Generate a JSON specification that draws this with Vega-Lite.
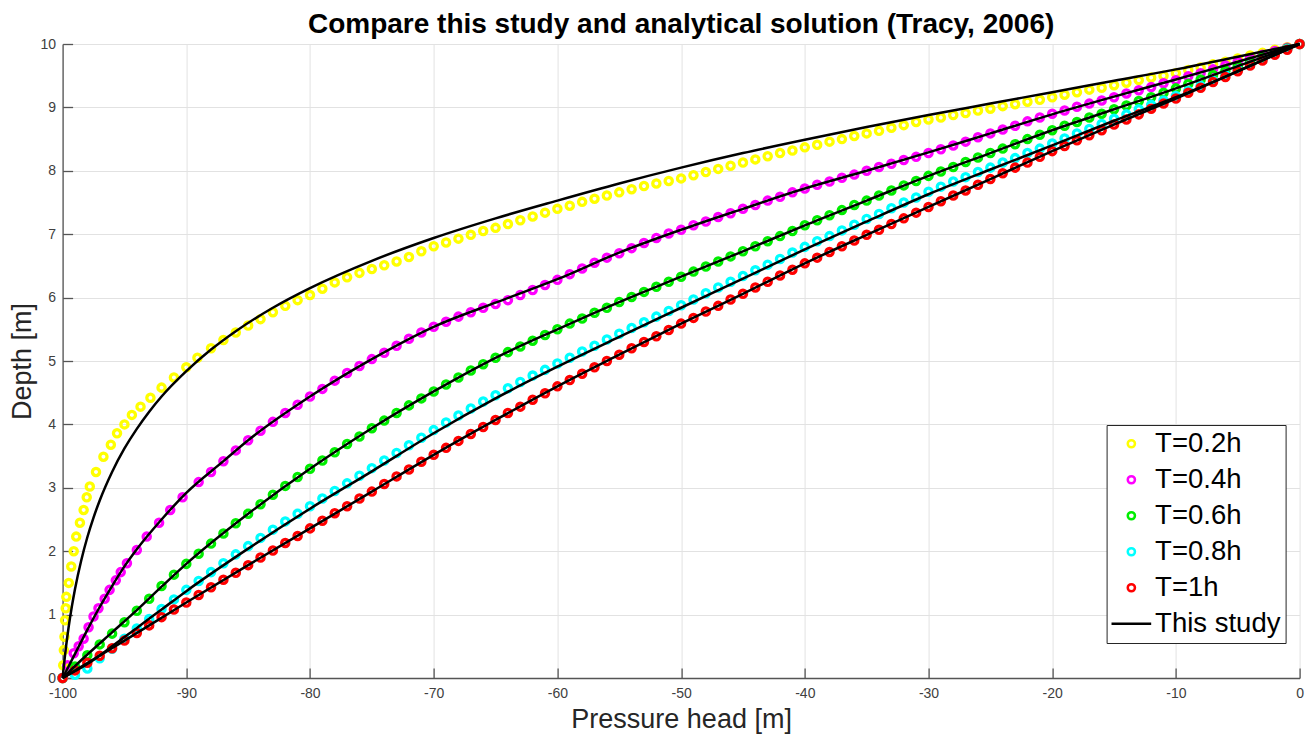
{
  "$schema": "https://vega.github.io/schema/vega-lite/v6.json",
  "width": 1237,
  "height": 634,
  "autosize": {"type": "none"},
  "padding": {"left": 62.6, "top": 44, "right": 9.4, "bottom": 57},
  "background": "white",
  "title": {"text": "Compare this study and analytical solution (Tracy, 2006)", "fontSize": 28, "font": "Liberation Sans", "fontWeight": "bold", "color": "#000000", "anchor": "middle", "offset": -5},
  "config": {"view": {"stroke": null}},
  "datasets": {
    "pts": [
      {"s":"T=0.2h","x":-100,"y":0},{"s":"T=0.2h","x":-99.95,"y":0.2},{"s":"T=0.2h","x":-99.9,"y":0.44},{"s":"T=0.2h","x":-99.85,"y":0.65},{"s":"T=0.2h","x":-99.8,"y":0.91},{"s":"T=0.2h","x":-99.75,"y":1.1},{"s":"T=0.2h","x":-99.7,"y":1.28},{"s":"T=0.2h","x":-99.5,"y":1.5},{"s":"T=0.2h","x":-99.3,"y":1.76},{"s":"T=0.2h","x":-99.1,"y":2.0},{"s":"T=0.2h","x":-98.9,"y":2.23},{"s":"T=0.2h","x":-98.6,"y":2.45},{"s":"T=0.2h","x":-98.3,"y":2.65},{"s":"T=0.2h","x":-98.05,"y":2.85},{"s":"T=0.2h","x":-97.8,"y":3.02},{"s":"T=0.2h","x":-97.3,"y":3.25},{"s":"T=0.2h","x":-96.7,"y":3.49},{"s":"T=0.2h","x":-96.1,"y":3.68},{"s":"T=0.2h","x":-95.6,"y":3.86},{"s":"T=0.2h","x":-95.0,"y":4.0},{"s":"T=0.2h","x":-94.4,"y":4.15},{"s":"T=0.2h","x":-93.7,"y":4.28},{"s":"T=0.2h","x":-92.9,"y":4.42},{"s":"T=0.2h","x":-92.0,"y":4.58},{"s":"T=0.2h","x":-91.0,"y":4.74},{"s":"T=0.2h","x":-90.0,"y":4.9},{"s":"T=0.2h","x":-89.1,"y":5.05},{"s":"T=0.2h","x":-88,"y":5.2},{"s":"T=0.2h","x":-87,"y":5.33},{"s":"T=0.2h","x":-86,"y":5.45},{"s":"T=0.2h","x":-85,"y":5.56},{"s":"T=0.2h","x":-84,"y":5.66},{"s":"T=0.2h","x":-83,"y":5.77},{"s":"T=0.2h","x":-82,"y":5.87},{"s":"T=0.2h","x":-81,"y":5.96},{"s":"T=0.2h","x":-80,"y":6.04},{"s":"T=0.2h","x":-79,"y":6.14},{"s":"T=0.2h","x":-78,"y":6.24},{"s":"T=0.2h","x":-77,"y":6.32},{"s":"T=0.2h","x":-76,"y":6.39},{"s":"T=0.2h","x":-75,"y":6.45},{"s":"T=0.2h","x":-74,"y":6.51},{"s":"T=0.2h","x":-73,"y":6.57},{"s":"T=0.2h","x":-72,"y":6.64},{"s":"T=0.2h","x":-71,"y":6.73},{"s":"T=0.2h","x":-70,"y":6.81},{"s":"T=0.2h","x":-69,"y":6.87},{"s":"T=0.2h","x":-68,"y":6.93},{"s":"T=0.2h","x":-67,"y":6.99},{"s":"T=0.2h","x":-66,"y":7.05},{"s":"T=0.2h","x":-65,"y":7.1},{"s":"T=0.2h","x":-64,"y":7.16},{"s":"T=0.2h","x":-63,"y":7.22},{"s":"T=0.2h","x":-62,"y":7.28},{"s":"T=0.2h","x":-61,"y":7.34},{"s":"T=0.2h","x":-60,"y":7.4},{"s":"T=0.2h","x":-59,"y":7.45},{"s":"T=0.2h","x":-58,"y":7.51},{"s":"T=0.2h","x":-57,"y":7.56},{"s":"T=0.2h","x":-56,"y":7.61},{"s":"T=0.2h","x":-55,"y":7.66},{"s":"T=0.2h","x":-54,"y":7.71},{"s":"T=0.2h","x":-53,"y":7.76},{"s":"T=0.2h","x":-52,"y":7.8},{"s":"T=0.2h","x":-51,"y":7.84},{"s":"T=0.2h","x":-50,"y":7.88},{"s":"T=0.2h","x":-49,"y":7.93},{"s":"T=0.2h","x":-48,"y":7.98},{"s":"T=0.2h","x":-47,"y":8.03},{"s":"T=0.2h","x":-46,"y":8.08},{"s":"T=0.2h","x":-45,"y":8.13},{"s":"T=0.2h","x":-44,"y":8.18},{"s":"T=0.2h","x":-43,"y":8.23},{"s":"T=0.2h","x":-42,"y":8.28},{"s":"T=0.2h","x":-41,"y":8.32},{"s":"T=0.2h","x":-40,"y":8.37},{"s":"T=0.2h","x":-39,"y":8.41},{"s":"T=0.2h","x":-38,"y":8.46},{"s":"T=0.2h","x":-37,"y":8.5},{"s":"T=0.2h","x":-36,"y":8.55},{"s":"T=0.2h","x":-35,"y":8.59},{"s":"T=0.2h","x":-34,"y":8.63},{"s":"T=0.2h","x":-33,"y":8.68},{"s":"T=0.2h","x":-32,"y":8.72},{"s":"T=0.2h","x":-31,"y":8.77},{"s":"T=0.2h","x":-30,"y":8.81},{"s":"T=0.2h","x":-29,"y":8.84},{"s":"T=0.2h","x":-28,"y":8.88},{"s":"T=0.2h","x":-27,"y":8.91},{"s":"T=0.2h","x":-26,"y":8.95},{"s":"T=0.2h","x":-25,"y":8.98},{"s":"T=0.2h","x":-24,"y":9.02},{"s":"T=0.2h","x":-23,"y":9.05},{"s":"T=0.2h","x":-22,"y":9.09},{"s":"T=0.2h","x":-21,"y":9.12},{"s":"T=0.2h","x":-20,"y":9.16},{"s":"T=0.2h","x":-19,"y":9.2},{"s":"T=0.2h","x":-18,"y":9.24},{"s":"T=0.2h","x":-17,"y":9.28},{"s":"T=0.2h","x":-16,"y":9.31},{"s":"T=0.2h","x":-15,"y":9.35},{"s":"T=0.2h","x":-14,"y":9.39},{"s":"T=0.2h","x":-13,"y":9.43},{"s":"T=0.2h","x":-12,"y":9.47},{"s":"T=0.2h","x":-11,"y":9.5},{"s":"T=0.2h","x":-10,"y":9.54},{"s":"T=0.2h","x":-9,"y":9.59},{"s":"T=0.2h","x":-8,"y":9.63},{"s":"T=0.2h","x":-7,"y":9.68},{"s":"T=0.2h","x":-6,"y":9.72},{"s":"T=0.2h","x":-5,"y":9.77},{"s":"T=0.2h","x":-4,"y":9.82},{"s":"T=0.2h","x":-3,"y":9.86},{"s":"T=0.2h","x":-2,"y":9.91},{"s":"T=0.2h","x":-1,"y":9.95},{"s":"T=0.2h","x":0,"y":10},

      {"s":"T=0.4h","x":-100,"y":0},{"s":"T=0.4h","x":-99.6,"y":0.2},{"s":"T=0.4h","x":-99.1,"y":0.39},{"s":"T=0.4h","x":-98.7,"y":0.5},{"s":"T=0.4h","x":-98.3,"y":0.62},{"s":"T=0.4h","x":-97.9,"y":0.8},{"s":"T=0.4h","x":-97.5,"y":0.97},{"s":"T=0.4h","x":-97.1,"y":1.1},{"s":"T=0.4h","x":-96.6,"y":1.25},{"s":"T=0.4h","x":-96.2,"y":1.39},{"s":"T=0.4h","x":-95.7,"y":1.54},{"s":"T=0.4h","x":-95.3,"y":1.67},{"s":"T=0.4h","x":-94.8,"y":1.81},{"s":"T=0.4h","x":-94,"y":2.02},{"s":"T=0.4h","x":-93.2,"y":2.23},{"s":"T=0.4h","x":-92.2,"y":2.45},{"s":"T=0.4h","x":-91.3,"y":2.65},{"s":"T=0.4h","x":-90.3,"y":2.85},{"s":"T=0.4h","x":-89,"y":3.09},{"s":"T=0.4h","x":-88,"y":3.25},{"s":"T=0.4h","x":-87,"y":3.42},{"s":"T=0.4h","x":-86,"y":3.59},{"s":"T=0.4h","x":-85,"y":3.75},{"s":"T=0.4h","x":-84,"y":3.9},{"s":"T=0.4h","x":-83,"y":4.04},{"s":"T=0.4h","x":-82,"y":4.18},{"s":"T=0.4h","x":-81,"y":4.31},{"s":"T=0.4h","x":-80,"y":4.44},{"s":"T=0.4h","x":-79,"y":4.56},{"s":"T=0.4h","x":-78,"y":4.69},{"s":"T=0.4h","x":-77,"y":4.81},{"s":"T=0.4h","x":-76,"y":4.92},{"s":"T=0.4h","x":-75,"y":5.03},{"s":"T=0.4h","x":-74,"y":5.13},{"s":"T=0.4h","x":-73,"y":5.24},{"s":"T=0.4h","x":-72,"y":5.35},{"s":"T=0.4h","x":-71,"y":5.45},{"s":"T=0.4h","x":-70,"y":5.54},{"s":"T=0.4h","x":-69,"y":5.62},{"s":"T=0.4h","x":-68,"y":5.7},{"s":"T=0.4h","x":-67,"y":5.77},{"s":"T=0.4h","x":-66,"y":5.84},{"s":"T=0.4h","x":-65,"y":5.9},{"s":"T=0.4h","x":-64,"y":5.96},{"s":"T=0.4h","x":-63,"y":6.04},{"s":"T=0.4h","x":-62,"y":6.12},{"s":"T=0.4h","x":-61,"y":6.2},{"s":"T=0.4h","x":-60,"y":6.28},{"s":"T=0.4h","x":-59,"y":6.37},{"s":"T=0.4h","x":-58,"y":6.46},{"s":"T=0.4h","x":-57,"y":6.55},{"s":"T=0.4h","x":-56,"y":6.63},{"s":"T=0.4h","x":-55,"y":6.7},{"s":"T=0.4h","x":-54,"y":6.78},{"s":"T=0.4h","x":-53,"y":6.86},{"s":"T=0.4h","x":-52,"y":6.94},{"s":"T=0.4h","x":-51,"y":7.01},{"s":"T=0.4h","x":-50,"y":7.07},{"s":"T=0.4h","x":-49,"y":7.14},{"s":"T=0.4h","x":-48,"y":7.2},{"s":"T=0.4h","x":-47,"y":7.27},{"s":"T=0.4h","x":-46,"y":7.33},{"s":"T=0.4h","x":-45,"y":7.4},{"s":"T=0.4h","x":-44,"y":7.46},{"s":"T=0.4h","x":-43,"y":7.53},{"s":"T=0.4h","x":-42,"y":7.59},{"s":"T=0.4h","x":-41,"y":7.66},{"s":"T=0.4h","x":-40,"y":7.72},{"s":"T=0.4h","x":-39,"y":7.78},{"s":"T=0.4h","x":-38,"y":7.83},{"s":"T=0.4h","x":-37,"y":7.89},{"s":"T=0.4h","x":-36,"y":7.94},{"s":"T=0.4h","x":-35,"y":8.0},{"s":"T=0.4h","x":-34,"y":8.06},{"s":"T=0.4h","x":-33,"y":8.11},{"s":"T=0.4h","x":-32,"y":8.17},{"s":"T=0.4h","x":-31,"y":8.22},{"s":"T=0.4h","x":-30,"y":8.28},{"s":"T=0.4h","x":-29,"y":8.34},{"s":"T=0.4h","x":-28,"y":8.4},{"s":"T=0.4h","x":-27,"y":8.46},{"s":"T=0.4h","x":-26,"y":8.53},{"s":"T=0.4h","x":-25,"y":8.59},{"s":"T=0.4h","x":-24,"y":8.65},{"s":"T=0.4h","x":-23,"y":8.71},{"s":"T=0.4h","x":-22,"y":8.78},{"s":"T=0.4h","x":-21,"y":8.84},{"s":"T=0.4h","x":-20,"y":8.9},{"s":"T=0.4h","x":-19,"y":8.95},{"s":"T=0.4h","x":-18,"y":9.01},{"s":"T=0.4h","x":-17,"y":9.06},{"s":"T=0.4h","x":-16,"y":9.11},{"s":"T=0.4h","x":-15,"y":9.16},{"s":"T=0.4h","x":-14,"y":9.22},{"s":"T=0.4h","x":-13,"y":9.27},{"s":"T=0.4h","x":-12,"y":9.32},{"s":"T=0.4h","x":-11,"y":9.38},{"s":"T=0.4h","x":-10,"y":9.43},{"s":"T=0.4h","x":-9,"y":9.49},{"s":"T=0.4h","x":-8,"y":9.54},{"s":"T=0.4h","x":-7,"y":9.6},{"s":"T=0.4h","x":-6,"y":9.66},{"s":"T=0.4h","x":-5,"y":9.72},{"s":"T=0.4h","x":-4,"y":9.77},{"s":"T=0.4h","x":-3,"y":9.83},{"s":"T=0.4h","x":-2,"y":9.89},{"s":"T=0.4h","x":-1,"y":9.94},{"s":"T=0.4h","x":0,"y":10},

      {"s":"T=0.6h","x":-100,"y":0},{"s":"T=0.6h","x":-99,"y":0.18},{"s":"T=0.6h","x":-98,"y":0.36},{"s":"T=0.6h","x":-97,"y":0.53},{"s":"T=0.6h","x":-96,"y":0.7},{"s":"T=0.6h","x":-95,"y":0.88},{"s":"T=0.6h","x":-94,"y":1.06},{"s":"T=0.6h","x":-93,"y":1.25},{"s":"T=0.6h","x":-92,"y":1.45},{"s":"T=0.6h","x":-91,"y":1.63},{"s":"T=0.6h","x":-90,"y":1.8},{"s":"T=0.6h","x":-89,"y":1.96},{"s":"T=0.6h","x":-88,"y":2.12},{"s":"T=0.6h","x":-87,"y":2.28},{"s":"T=0.6h","x":-86,"y":2.44},{"s":"T=0.6h","x":-85,"y":2.59},{"s":"T=0.6h","x":-84,"y":2.74},{"s":"T=0.6h","x":-83,"y":2.89},{"s":"T=0.6h","x":-82,"y":3.03},{"s":"T=0.6h","x":-81,"y":3.17},{"s":"T=0.6h","x":-80,"y":3.3},{"s":"T=0.6h","x":-79,"y":3.43},{"s":"T=0.6h","x":-78,"y":3.56},{"s":"T=0.6h","x":-77,"y":3.69},{"s":"T=0.6h","x":-76,"y":3.81},{"s":"T=0.6h","x":-75,"y":3.94},{"s":"T=0.6h","x":-74,"y":4.06},{"s":"T=0.6h","x":-73,"y":4.18},{"s":"T=0.6h","x":-72,"y":4.3},{"s":"T=0.6h","x":-71,"y":4.41},{"s":"T=0.6h","x":-70,"y":4.52},{"s":"T=0.6h","x":-69,"y":4.63},{"s":"T=0.6h","x":-68,"y":4.74},{"s":"T=0.6h","x":-67,"y":4.85},{"s":"T=0.6h","x":-66,"y":4.95},{"s":"T=0.6h","x":-65,"y":5.05},{"s":"T=0.6h","x":-64,"y":5.14},{"s":"T=0.6h","x":-63,"y":5.23},{"s":"T=0.6h","x":-62,"y":5.32},{"s":"T=0.6h","x":-61,"y":5.41},{"s":"T=0.6h","x":-60,"y":5.5},{"s":"T=0.6h","x":-59,"y":5.59},{"s":"T=0.6h","x":-58,"y":5.67},{"s":"T=0.6h","x":-57,"y":5.76},{"s":"T=0.6h","x":-56,"y":5.84},{"s":"T=0.6h","x":-55,"y":5.93},{"s":"T=0.6h","x":-54,"y":6.01},{"s":"T=0.6h","x":-53,"y":6.09},{"s":"T=0.6h","x":-52,"y":6.17},{"s":"T=0.6h","x":-51,"y":6.25},{"s":"T=0.6h","x":-50,"y":6.33},{"s":"T=0.6h","x":-49,"y":6.41},{"s":"T=0.6h","x":-48,"y":6.49},{"s":"T=0.6h","x":-47,"y":6.57},{"s":"T=0.6h","x":-46,"y":6.65},{"s":"T=0.6h","x":-45,"y":6.73},{"s":"T=0.6h","x":-44,"y":6.81},{"s":"T=0.6h","x":-43,"y":6.89},{"s":"T=0.6h","x":-42,"y":6.97},{"s":"T=0.6h","x":-41,"y":7.05},{"s":"T=0.6h","x":-40,"y":7.14},{"s":"T=0.6h","x":-39,"y":7.22},{"s":"T=0.6h","x":-38,"y":7.3},{"s":"T=0.6h","x":-37,"y":7.38},{"s":"T=0.6h","x":-36,"y":7.46},{"s":"T=0.6h","x":-35,"y":7.53},{"s":"T=0.6h","x":-34,"y":7.61},{"s":"T=0.6h","x":-33,"y":7.69},{"s":"T=0.6h","x":-32,"y":7.77},{"s":"T=0.6h","x":-31,"y":7.84},{"s":"T=0.6h","x":-30,"y":7.92},{"s":"T=0.6h","x":-29,"y":7.99},{"s":"T=0.6h","x":-28,"y":8.06},{"s":"T=0.6h","x":-27,"y":8.14},{"s":"T=0.6h","x":-26,"y":8.21},{"s":"T=0.6h","x":-25,"y":8.28},{"s":"T=0.6h","x":-24,"y":8.35},{"s":"T=0.6h","x":-23,"y":8.42},{"s":"T=0.6h","x":-22,"y":8.5},{"s":"T=0.6h","x":-21,"y":8.57},{"s":"T=0.6h","x":-20,"y":8.64},{"s":"T=0.6h","x":-19,"y":8.71},{"s":"T=0.6h","x":-18,"y":8.77},{"s":"T=0.6h","x":-17,"y":8.84},{"s":"T=0.6h","x":-16,"y":8.9},{"s":"T=0.6h","x":-15,"y":8.97},{"s":"T=0.6h","x":-14,"y":9.03},{"s":"T=0.6h","x":-13,"y":9.1},{"s":"T=0.6h","x":-12,"y":9.16},{"s":"T=0.6h","x":-11,"y":9.23},{"s":"T=0.6h","x":-10,"y":9.3},{"s":"T=0.6h","x":-9,"y":9.37},{"s":"T=0.6h","x":-8,"y":9.44},{"s":"T=0.6h","x":-7,"y":9.51},{"s":"T=0.6h","x":-6,"y":9.58},{"s":"T=0.6h","x":-5,"y":9.65},{"s":"T=0.6h","x":-4,"y":9.72},{"s":"T=0.6h","x":-3,"y":9.79},{"s":"T=0.6h","x":-2,"y":9.86},{"s":"T=0.6h","x":-1,"y":9.93},{"s":"T=0.6h","x":0,"y":10},

      {"s":"T=0.8h","x":-100,"y":0},{"s":"T=0.8h","x":-99,"y":0.05},{"s":"T=0.8h","x":-98,"y":0.15},{"s":"T=0.8h","x":-97,"y":0.31},{"s":"T=0.8h","x":-96,"y":0.46},{"s":"T=0.8h","x":-95,"y":0.62},{"s":"T=0.8h","x":-94,"y":0.78},{"s":"T=0.8h","x":-93,"y":0.93},{"s":"T=0.8h","x":-92,"y":1.09},{"s":"T=0.8h","x":-91,"y":1.24},{"s":"T=0.8h","x":-90,"y":1.39},{"s":"T=0.8h","x":-89,"y":1.53},{"s":"T=0.8h","x":-88,"y":1.67},{"s":"T=0.8h","x":-87,"y":1.81},{"s":"T=0.8h","x":-86,"y":1.95},{"s":"T=0.8h","x":-85,"y":2.08},{"s":"T=0.8h","x":-84,"y":2.21},{"s":"T=0.8h","x":-83,"y":2.34},{"s":"T=0.8h","x":-82,"y":2.47},{"s":"T=0.8h","x":-81,"y":2.59},{"s":"T=0.8h","x":-80,"y":2.71},{"s":"T=0.8h","x":-79,"y":2.83},{"s":"T=0.8h","x":-78,"y":2.95},{"s":"T=0.8h","x":-77,"y":3.07},{"s":"T=0.8h","x":-76,"y":3.19},{"s":"T=0.8h","x":-75,"y":3.31},{"s":"T=0.8h","x":-74,"y":3.43},{"s":"T=0.8h","x":-73,"y":3.55},{"s":"T=0.8h","x":-72,"y":3.67},{"s":"T=0.8h","x":-71,"y":3.79},{"s":"T=0.8h","x":-70,"y":3.91},{"s":"T=0.8h","x":-69,"y":4.03},{"s":"T=0.8h","x":-68,"y":4.14},{"s":"T=0.8h","x":-67,"y":4.25},{"s":"T=0.8h","x":-66,"y":4.36},{"s":"T=0.8h","x":-65,"y":4.46},{"s":"T=0.8h","x":-64,"y":4.57},{"s":"T=0.8h","x":-63,"y":4.67},{"s":"T=0.8h","x":-62,"y":4.77},{"s":"T=0.8h","x":-61,"y":4.86},{"s":"T=0.8h","x":-60,"y":4.96},{"s":"T=0.8h","x":-59,"y":5.05},{"s":"T=0.8h","x":-58,"y":5.15},{"s":"T=0.8h","x":-57,"y":5.24},{"s":"T=0.8h","x":-56,"y":5.34},{"s":"T=0.8h","x":-55,"y":5.43},{"s":"T=0.8h","x":-54,"y":5.52},{"s":"T=0.8h","x":-53,"y":5.61},{"s":"T=0.8h","x":-52,"y":5.7},{"s":"T=0.8h","x":-51,"y":5.79},{"s":"T=0.8h","x":-50,"y":5.88},{"s":"T=0.8h","x":-49,"y":5.97},{"s":"T=0.8h","x":-48,"y":6.07},{"s":"T=0.8h","x":-47,"y":6.16},{"s":"T=0.8h","x":-46,"y":6.25},{"s":"T=0.8h","x":-45,"y":6.34},{"s":"T=0.8h","x":-44,"y":6.43},{"s":"T=0.8h","x":-43,"y":6.52},{"s":"T=0.8h","x":-42,"y":6.61},{"s":"T=0.8h","x":-41,"y":6.71},{"s":"T=0.8h","x":-40,"y":6.8},{"s":"T=0.8h","x":-39,"y":6.89},{"s":"T=0.8h","x":-38,"y":6.97},{"s":"T=0.8h","x":-37,"y":7.06},{"s":"T=0.8h","x":-36,"y":7.15},{"s":"T=0.8h","x":-35,"y":7.24},{"s":"T=0.8h","x":-34,"y":7.32},{"s":"T=0.8h","x":-33,"y":7.41},{"s":"T=0.8h","x":-32,"y":7.5},{"s":"T=0.8h","x":-31,"y":7.58},{"s":"T=0.8h","x":-30,"y":7.67},{"s":"T=0.8h","x":-29,"y":7.75},{"s":"T=0.8h","x":-28,"y":7.83},{"s":"T=0.8h","x":-27,"y":7.9},{"s":"T=0.8h","x":-26,"y":7.98},{"s":"T=0.8h","x":-25,"y":8.05},{"s":"T=0.8h","x":-24,"y":8.13},{"s":"T=0.8h","x":-23,"y":8.2},{"s":"T=0.8h","x":-22,"y":8.28},{"s":"T=0.8h","x":-21,"y":8.35},{"s":"T=0.8h","x":-20,"y":8.43},{"s":"T=0.8h","x":-19,"y":8.51},{"s":"T=0.8h","x":-18,"y":8.59},{"s":"T=0.8h","x":-17,"y":8.66},{"s":"T=0.8h","x":-16,"y":8.74},{"s":"T=0.8h","x":-15,"y":8.82},{"s":"T=0.8h","x":-14,"y":8.89},{"s":"T=0.8h","x":-13,"y":8.97},{"s":"T=0.8h","x":-12,"y":9.04},{"s":"T=0.8h","x":-11,"y":9.11},{"s":"T=0.8h","x":-10,"y":9.18},{"s":"T=0.8h","x":-9,"y":9.26},{"s":"T=0.8h","x":-8,"y":9.34},{"s":"T=0.8h","x":-7,"y":9.42},{"s":"T=0.8h","x":-6,"y":9.51},{"s":"T=0.8h","x":-5,"y":9.59},{"s":"T=0.8h","x":-4,"y":9.67},{"s":"T=0.8h","x":-3,"y":9.75},{"s":"T=0.8h","x":-2,"y":9.84},{"s":"T=0.8h","x":-1,"y":9.92},{"s":"T=0.8h","x":0,"y":10},

      {"s":"T=1h","x":-100,"y":0},{"s":"T=1h","x":-99,"y":0.12},{"s":"T=1h","x":-98,"y":0.24},{"s":"T=1h","x":-97,"y":0.35},{"s":"T=1h","x":-96,"y":0.47},{"s":"T=1h","x":-95,"y":0.59},{"s":"T=1h","x":-94,"y":0.71},{"s":"T=1h","x":-93,"y":0.83},{"s":"T=1h","x":-92,"y":0.96},{"s":"T=1h","x":-91,"y":1.08},{"s":"T=1h","x":-90,"y":1.19},{"s":"T=1h","x":-89,"y":1.31},{"s":"T=1h","x":-88,"y":1.43},{"s":"T=1h","x":-87,"y":1.55},{"s":"T=1h","x":-86,"y":1.66},{"s":"T=1h","x":-85,"y":1.78},{"s":"T=1h","x":-84,"y":1.9},{"s":"T=1h","x":-83,"y":2.01},{"s":"T=1h","x":-82,"y":2.13},{"s":"T=1h","x":-81,"y":2.24},{"s":"T=1h","x":-80,"y":2.36},{"s":"T=1h","x":-79,"y":2.48},{"s":"T=1h","x":-78,"y":2.6},{"s":"T=1h","x":-77,"y":2.71},{"s":"T=1h","x":-76,"y":2.83},{"s":"T=1h","x":-75,"y":2.94},{"s":"T=1h","x":-74,"y":3.06},{"s":"T=1h","x":-73,"y":3.18},{"s":"T=1h","x":-72,"y":3.29},{"s":"T=1h","x":-71,"y":3.41},{"s":"T=1h","x":-70,"y":3.52},{"s":"T=1h","x":-69,"y":3.63},{"s":"T=1h","x":-68,"y":3.74},{"s":"T=1h","x":-67,"y":3.85},{"s":"T=1h","x":-66,"y":3.96},{"s":"T=1h","x":-65,"y":4.07},{"s":"T=1h","x":-64,"y":4.18},{"s":"T=1h","x":-63,"y":4.28},{"s":"T=1h","x":-62,"y":4.39},{"s":"T=1h","x":-61,"y":4.49},{"s":"T=1h","x":-60,"y":4.6},{"s":"T=1h","x":-59,"y":4.7},{"s":"T=1h","x":-58,"y":4.8},{"s":"T=1h","x":-57,"y":4.9},{"s":"T=1h","x":-56,"y":5.0},{"s":"T=1h","x":-55,"y":5.1},{"s":"T=1h","x":-54,"y":5.2},{"s":"T=1h","x":-53,"y":5.3},{"s":"T=1h","x":-52,"y":5.39},{"s":"T=1h","x":-51,"y":5.49},{"s":"T=1h","x":-50,"y":5.59},{"s":"T=1h","x":-49,"y":5.68},{"s":"T=1h","x":-48,"y":5.78},{"s":"T=1h","x":-47,"y":5.87},{"s":"T=1h","x":-46,"y":5.97},{"s":"T=1h","x":-45,"y":6.06},{"s":"T=1h","x":-44,"y":6.16},{"s":"T=1h","x":-43,"y":6.25},{"s":"T=1h","x":-42,"y":6.35},{"s":"T=1h","x":-41,"y":6.44},{"s":"T=1h","x":-40,"y":6.54},{"s":"T=1h","x":-39,"y":6.63},{"s":"T=1h","x":-38,"y":6.72},{"s":"T=1h","x":-37,"y":6.81},{"s":"T=1h","x":-36,"y":6.9},{"s":"T=1h","x":-35,"y":6.99},{"s":"T=1h","x":-34,"y":7.07},{"s":"T=1h","x":-33,"y":7.16},{"s":"T=1h","x":-32,"y":7.25},{"s":"T=1h","x":-31,"y":7.34},{"s":"T=1h","x":-30,"y":7.43},{"s":"T=1h","x":-29,"y":7.52},{"s":"T=1h","x":-28,"y":7.61},{"s":"T=1h","x":-27,"y":7.69},{"s":"T=1h","x":-26,"y":7.78},{"s":"T=1h","x":-25,"y":7.87},{"s":"T=1h","x":-24,"y":7.96},{"s":"T=1h","x":-23,"y":8.05},{"s":"T=1h","x":-22,"y":8.13},{"s":"T=1h","x":-21,"y":8.22},{"s":"T=1h","x":-20,"y":8.31},{"s":"T=1h","x":-19,"y":8.39},{"s":"T=1h","x":-18,"y":8.48},{"s":"T=1h","x":-17,"y":8.56},{"s":"T=1h","x":-16,"y":8.64},{"s":"T=1h","x":-15,"y":8.73},{"s":"T=1h","x":-14,"y":8.81},{"s":"T=1h","x":-13,"y":8.89},{"s":"T=1h","x":-12,"y":8.98},{"s":"T=1h","x":-11,"y":9.06},{"s":"T=1h","x":-10,"y":9.14},{"s":"T=1h","x":-9,"y":9.23},{"s":"T=1h","x":-8,"y":9.31},{"s":"T=1h","x":-7,"y":9.4},{"s":"T=1h","x":-6,"y":9.48},{"s":"T=1h","x":-5,"y":9.57},{"s":"T=1h","x":-4,"y":9.66},{"s":"T=1h","x":-3,"y":9.74},{"s":"T=1h","x":-2,"y":9.83},{"s":"T=1h","x":-1,"y":9.91},{"s":"T=1h","x":0,"y":10}
    ],
    "lines": [
      {"s":"This study","c":"a","x":-100,"y":0},{"s":"This study","c":"a","x":-99.9,"y":0.19},{"s":"This study","c":"a","x":-99.75,"y":0.45},{"s":"This study","c":"a","x":-99.5,"y":0.82},{"s":"This study","c":"a","x":-99.25,"y":1.13},{"s":"This study","c":"a","x":-99,"y":1.4},{"s":"This study","c":"a","x":-98.5,"y":1.85},{"s":"This study","c":"a","x":-98,"y":2.22},{"s":"This study","c":"a","x":-97.5,"y":2.53},{"s":"This study","c":"a","x":-97,"y":2.8},{"s":"This study","c":"a","x":-96,"y":3.25},{"s":"This study","c":"a","x":-95,"y":3.62},{"s":"This study","c":"a","x":-94,"y":3.93},{"s":"This study","c":"a","x":-93,"y":4.2},{"s":"This study","c":"a","x":-92,"y":4.44},{"s":"This study","c":"a","x":-90,"y":4.84},{"s":"This study","c":"a","x":-88,"y":5.18},{"s":"This study","c":"a","x":-86,"y":5.47},{"s":"This study","c":"a","x":-83,"y":5.84},{"s":"This study","c":"a","x":-80,"y":6.15},{"s":"This study","c":"a","x":-75,"y":6.58},{"s":"This study","c":"a","x":-70,"y":6.94},{"s":"This study","c":"a","x":-65,"y":7.25},{"s":"This study","c":"a","x":-60,"y":7.53},{"s":"This study","c":"a","x":-55,"y":7.8},{"s":"This study","c":"a","x":-50,"y":8.05},{"s":"This study","c":"a","x":-45,"y":8.28},{"s":"This study","c":"a","x":-40,"y":8.49},{"s":"This study","c":"a","x":-35,"y":8.69},{"s":"This study","c":"a","x":-30,"y":8.88},{"s":"This study","c":"a","x":-25,"y":9.06},{"s":"This study","c":"a","x":-20,"y":9.24},{"s":"This study","c":"a","x":-15,"y":9.42},{"s":"This study","c":"a","x":-10,"y":9.6},{"s":"This study","c":"a","x":-5,"y":9.8},{"s":"This study","c":"a","x":0,"y":10},
      {"s":"This study","c":"b","x":-100,"y":0},{"s":"This study","c":"b","x":-99,"y":0.38},{"s":"This study","c":"b","x":-98,"y":0.76},{"s":"This study","c":"b","x":-97,"y":1.12},{"s":"This study","c":"b","x":-96,"y":1.45},{"s":"This study","c":"b","x":-95,"y":1.76},{"s":"This study","c":"b","x":-94,"y":2.03},{"s":"This study","c":"b","x":-92,"y":2.5},{"s":"This study","c":"b","x":-90,"y":2.92},{"s":"This study","c":"b","x":-87,"y":3.42},{"s":"This study","c":"b","x":-85,"y":3.75},{"s":"This study","c":"b","x":-80,"y":4.44},{"s":"This study","c":"b","x":-75,"y":5.03},{"s":"This study","c":"b","x":-70,"y":5.54},{"s":"This study","c":"b","x":-65,"y":5.92},{"s":"This study","c":"b","x":-60,"y":6.29},{"s":"This study","c":"b","x":-55,"y":6.71},{"s":"This study","c":"b","x":-50,"y":7.07},{"s":"This study","c":"b","x":-45,"y":7.4},{"s":"This study","c":"b","x":-40,"y":7.72},{"s":"This study","c":"b","x":-35,"y":8.0},{"s":"This study","c":"b","x":-30,"y":8.29},{"s":"This study","c":"b","x":-25,"y":8.59},{"s":"This study","c":"b","x":-20,"y":8.89},{"s":"This study","c":"b","x":-15,"y":9.17},{"s":"This study","c":"b","x":-10,"y":9.44},{"s":"This study","c":"b","x":-5,"y":9.72},{"s":"This study","c":"b","x":0,"y":10},
      {"s":"This study","c":"c","x":-100,"y":0},{"s":"This study","c":"c","x":-98,"y":0.37},{"s":"This study","c":"c","x":-96,"y":0.72},{"s":"This study","c":"c","x":-94,"y":1.07},{"s":"This study","c":"c","x":-92,"y":1.44},{"s":"This study","c":"c","x":-90,"y":1.8},{"s":"This study","c":"c","x":-85,"y":2.59},{"s":"This study","c":"c","x":-80,"y":3.3},{"s":"This study","c":"c","x":-75,"y":3.94},{"s":"This study","c":"c","x":-70,"y":4.52},{"s":"This study","c":"c","x":-65,"y":5.05},{"s":"This study","c":"c","x":-60,"y":5.5},{"s":"This study","c":"c","x":-55,"y":5.93},{"s":"This study","c":"c","x":-50,"y":6.33},{"s":"This study","c":"c","x":-45,"y":6.73},{"s":"This study","c":"c","x":-40,"y":7.14},{"s":"This study","c":"c","x":-35,"y":7.53},{"s":"This study","c":"c","x":-30,"y":7.92},{"s":"This study","c":"c","x":-25,"y":8.28},{"s":"This study","c":"c","x":-20,"y":8.64},{"s":"This study","c":"c","x":-15,"y":8.97},{"s":"This study","c":"c","x":-10,"y":9.3},{"s":"This study","c":"c","x":-5,"y":9.65},{"s":"This study","c":"c","x":0,"y":10},
      {"s":"This study","c":"d","x":-100,"y":0},{"s":"This study","c":"d","x":-98,"y":0.22},{"s":"This study","c":"d","x":-96,"y":0.5},{"s":"This study","c":"d","x":-94,"y":0.79},{"s":"This study","c":"d","x":-92,"y":1.08},{"s":"This study","c":"d","x":-90,"y":1.37},{"s":"This study","c":"d","x":-85,"y":2.04},{"s":"This study","c":"d","x":-80,"y":2.67},{"s":"This study","c":"d","x":-75,"y":3.26},{"s":"This study","c":"d","x":-70,"y":3.86},{"s":"This study","c":"d","x":-65,"y":4.41},{"s":"This study","c":"d","x":-60,"y":4.91},{"s":"This study","c":"d","x":-55,"y":5.38},{"s":"This study","c":"d","x":-50,"y":5.84},{"s":"This study","c":"d","x":-45,"y":6.3},{"s":"This study","c":"d","x":-40,"y":6.76},{"s":"This study","c":"d","x":-35,"y":7.2},{"s":"This study","c":"d","x":-30,"y":7.63},{"s":"This study","c":"d","x":-25,"y":8.02},{"s":"This study","c":"d","x":-20,"y":8.4},{"s":"This study","c":"d","x":-15,"y":8.79},{"s":"This study","c":"d","x":-10,"y":9.16},{"s":"This study","c":"d","x":-5,"y":9.57},{"s":"This study","c":"d","x":0,"y":10},
      {"s":"This study","c":"e","x":-100,"y":0},{"s":"This study","c":"e","x":-95,"y":0.59},{"s":"This study","c":"e","x":-90,"y":1.19},{"s":"This study","c":"e","x":-85,"y":1.78},{"s":"This study","c":"e","x":-80,"y":2.36},{"s":"This study","c":"e","x":-75,"y":2.94},{"s":"This study","c":"e","x":-70,"y":3.52},{"s":"This study","c":"e","x":-65,"y":4.07},{"s":"This study","c":"e","x":-60,"y":4.6},{"s":"This study","c":"e","x":-55,"y":5.1},{"s":"This study","c":"e","x":-50,"y":5.59},{"s":"This study","c":"e","x":-45,"y":6.06},{"s":"This study","c":"e","x":-40,"y":6.54},{"s":"This study","c":"e","x":-35,"y":6.99},{"s":"This study","c":"e","x":-30,"y":7.43},{"s":"This study","c":"e","x":-25,"y":7.87},{"s":"This study","c":"e","x":-20,"y":8.31},{"s":"This study","c":"e","x":-15,"y":8.73},{"s":"This study","c":"e","x":-10,"y":9.14},{"s":"This study","c":"e","x":-5,"y":9.57},{"s":"This study","c":"e","x":0,"y":10}
    ]
  },
  "layer": [
    {
      "data": {"name": "pts"},
      "mark": {"type": "point", "filled": false, "size": 52, "strokeWidth": 3.3, "opacity": 1},
      "encoding": {
        "x": {"field": "x", "type": "quantitative", "scale": {"domain": [-100, 0], "nice": false},
          "axis": {"values": [-100,-90,-80,-70,-60,-50,-40,-30,-20,-10,0], "labelExpr": "'' + datum.value", "title": "Pressure head [m]", "titleFont": "Liberation Sans", "titleFontSize": 27, "titleFontWeight": "normal", "titleColor": "#262626", "titlePadding": 6,
            "labelFont": "Liberation Sans", "labelFontSize": 14, "labelColor": "#404040", "labelPadding": 18, "labelFlush": false,
            "grid": true, "gridColor": "#e2e2e2", "gridWidth": 1, "domainColor": "#555555", "domainWidth": 1.3, "tickColor": "#555555", "tickSize": -10, "tickWidth": 1.3}},
        "y": {"field": "y", "type": "quantitative", "scale": {"domain": [0, 10], "nice": false},
          "axis": {"values": [0,1,2,3,4,5,6,7,8,9,10], "labelExpr": "'' + datum.value", "title": "Depth [m]", "titleFont": "Liberation Sans", "titleFontSize": 27, "titleFontWeight": "normal", "titleColor": "#262626", "titlePadding": 4,
            "labelFont": "Liberation Sans", "labelFontSize": 14, "labelColor": "#404040", "labelPadding": 17,
            "grid": true, "gridColor": "#e2e2e2", "gridWidth": 1, "domainColor": "#555555", "domainWidth": 1.3, "tickColor": "#555555", "tickSize": -10, "tickWidth": 1.3}},
        "color": {"field": "s", "type": "nominal",
          "scale": {"domain": ["T=0.2h","T=0.4h","T=0.6h","T=0.8h","T=1h","This study"], "range": ["#ffff00","#ff00ff","#00ee00","#00ffff","#ff0000","#000000"]},
          "legend": {"title": null, "orient": "none", "legendX": 1044, "legendY": 381, "direction": "vertical",
            "fillColor": "white", "strokeColor": "#262626", "padding": 5, "cornerRadius": 0,
            "labelFont": "Liberation Sans", "labelFontSize": 27.5, "labelColor": "#000000", "labelOffset": 10,
            "rowPadding": 7, "symbolStrokeWidth": 2.5, "symbolSize": 52, "symbolOffset": 6,
            "encode": {"symbols": {
              "fill": {"value": "transparent"},
              "strokeWidth": {"value": 2.5}}}}},
        "shape": {"field": "s", "type": "nominal",
          "scale": {"domain": ["T=0.2h","T=0.4h","T=0.6h","T=0.8h","T=1h","This study"], "range": ["circle","circle","circle","circle","circle","M-5.5,0L5.5,0"]},
          "legend": {"title": null, "orient": "none", "legendX": 1044, "legendY": 381}}
      }
    },
    {
      "data": {"name": "lines"},
      "mark": {"type": "line", "strokeWidth": 2.5, "interpolate": "monotone"},
      "encoding": {
        "x": {"field": "x", "type": "quantitative"},
        "y": {"field": "y", "type": "quantitative"},
        "color": {"field": "s", "type": "nominal", "legend": null},
        "detail": {"field": "c"}
      }
    }
  ]
}
